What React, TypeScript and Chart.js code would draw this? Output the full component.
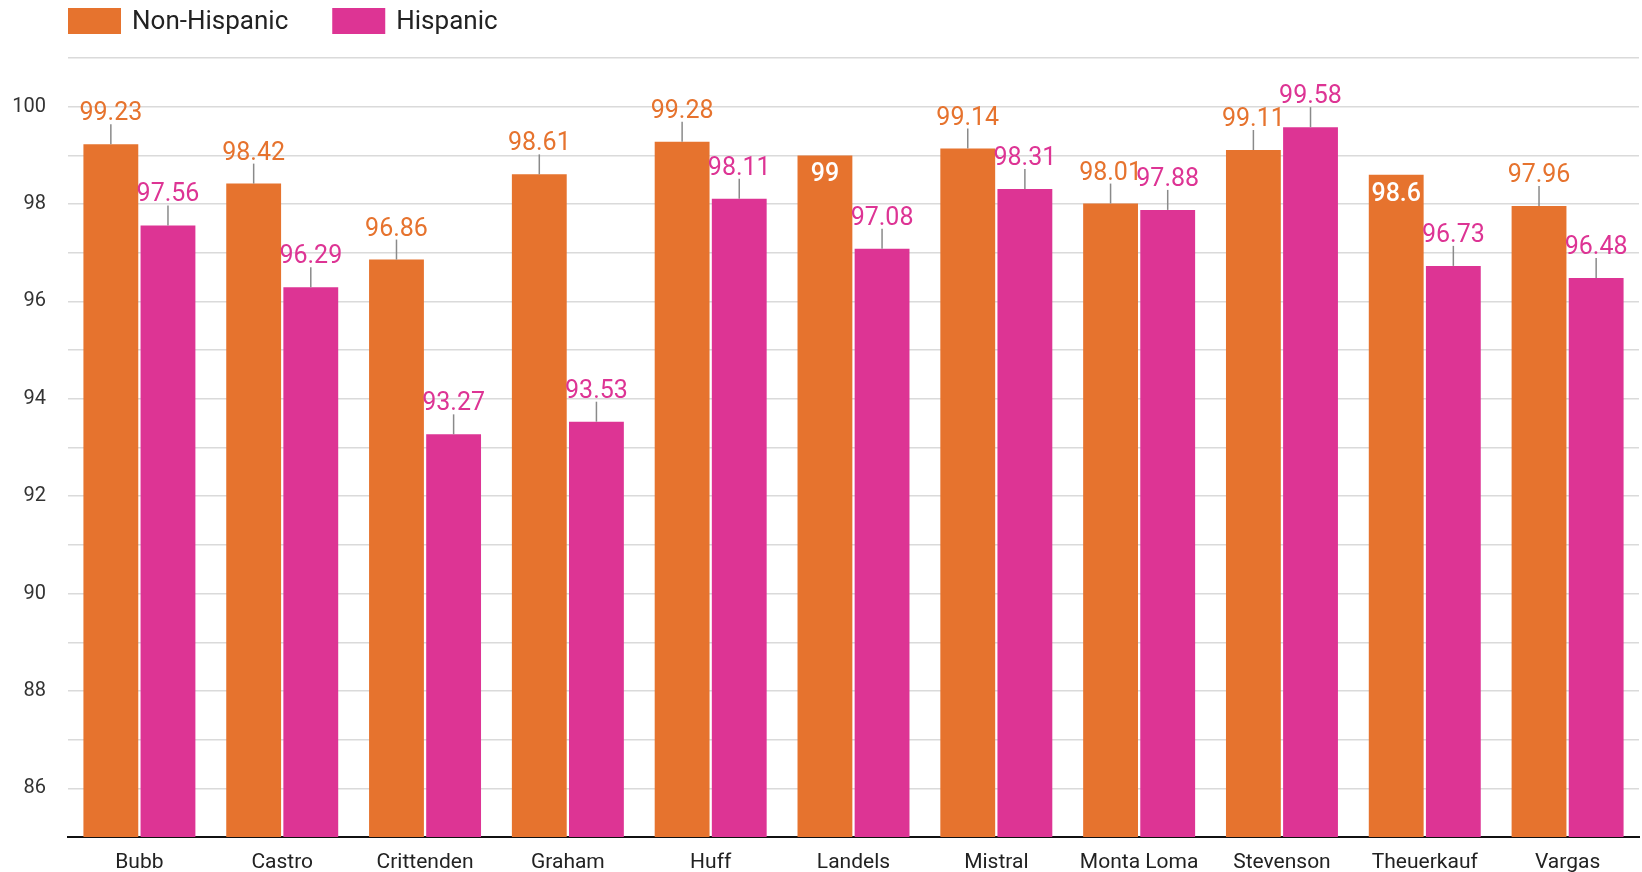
import { Chart, registerables } from 'chart.js';
import { useEffect, useRef } from 'react';

Chart.register(...registerables);

const ORANGE = '#E6732E';
const PINK = '#DD3494';
const LEADER_COLOR = '#8a8a8a';
const GRID_COLOR = '#dadada';
const FONT = 'Roboto';

const schools = ['Bubb', 'Castro', 'Crittenden', 'Graham', 'Huff', 'Landels', 'Mistral', 'Monta Loma', 'Stevenson', 'Theuerkauf', 'Vargas'];
const nonHispanic = [99.23, 98.42, 96.86, 98.61, 99.28, 99, 99.14, 98.01, 99.11, 98.6, 97.96];
const hispanic = [97.56, 96.29, 93.27, 93.53, 98.11, 97.08, 98.31, 97.88, 99.58, 96.73, 96.48];
const seriesNames = ['Non-Hispanic', 'Hispanic'];
const seriesColors = [ORANGE, PINK];
// labels drawn inside the bar instead of above it
const insideLabels = [[5, 9], []];
const yMin = 85;
const yMax = 101;

const App = () => {
  const chartRef = useRef<HTMLCanvasElement | null>(null);

  useEffect(() => {
    if (chartRef.current === null) return () => {};
    const aChart = new Chart(chartRef.current, {
      type: 'bar',
      plugins: [{
        id: 'valueLabels',
        afterDatasetsDraw(chart) {
          const { ctx } = chart;
          ctx.save();
          chart.data.datasets.forEach((dataset, di) => {
            const meta = chart.getDatasetMeta(di);
            meta.data.forEach((bar: any, i) => {
              const value = dataset.data[i] as number;
              const text = `${value}`;
              ctx.textAlign = 'center';
              if (insideLabels[di].includes(i)) {
                ctx.font = `500 25px ${FONT}`;
                ctx.fillStyle = '#ffffff';
                ctx.textBaseline = 'alphabetic';
                ctx.fillText(text, bar.x, bar.y + 26);
                return;
              }
              ctx.strokeStyle = LEADER_COLOR;
              ctx.lineWidth = 1.5;
              ctx.beginPath();
              ctx.moveTo(bar.x, bar.y);
              ctx.lineTo(bar.x, bar.y - 20);
              ctx.stroke();
              ctx.font = `25px ${FONT}`;
              ctx.fillStyle = seriesColors[di];
              ctx.textBaseline = 'alphabetic';
              ctx.fillText(text, bar.x, bar.y - 24);
            });
          });

          // legend
          let x = 68;
          seriesNames.forEach((name, di) => {
            ctx.fillStyle = seriesColors[di];
            ctx.fillRect(x, 8, 53, 26);
            ctx.font = `26px ${FONT}`;
            ctx.fillStyle = '#222222';
            ctx.textAlign = 'left';
            ctx.textBaseline = 'middle';
            ctx.fillText(name, x + 64, 22);
            x += 64 + ctx.measureText(name).width + 44;
          });
          ctx.restore();
        },
      }],
      data: {
        labels: schools,
        datasets: [
          {
            label: seriesNames[0],
            data: nonHispanic,
            backgroundColor: ORANGE,
            categoryPercentage: 0.8,
            barPercentage: 0.96,
          },
          {
            label: seriesNames[1],
            data: hispanic,
            backgroundColor: PINK,
            categoryPercentage: 0.8,
            barPercentage: 0.96,
          },
        ],
      },
      options: {
        animation: false,
        responsive: true,
        maintainAspectRatio: false,
        layout: {
          padding: { top: 58, right: 3, left: 0, bottom: 0 },
        },
        plugins: {
          legend: { display: false },
          tooltip: { enabled: false },
        },
        scales: {
          x: {
            grid: { display: false, drawTicks: false },
            border: { display: true, color: '#111111', width: 2 },
            ticks: {
              color: '#222222',
              padding: 13,
              font: { family: FONT, size: 21 },
              maxRotation: 0,
            },
            afterFit(scale) {
              scale.height = 35;
            },
          },
          y: {
            min: yMin,
            max: yMax,
            grid: { color: GRID_COLOR, lineWidth: 1.5, drawTicks: false },
            border: { display: false },
            ticks: {
              stepSize: 1,
              padding: 22,
              color: '#333333',
              font: { family: FONT, size: 20 },
              callback: (v) => (Number(v) % 2 === 0 ? `${v}` : ''),
            },
            afterFit(scale) {
              scale.width = 68;
            },
          },
        },
      },
    });
    return () => {
      aChart.destroy();
    };
  }, []);

  return (
    <div style={{ position: 'absolute', left: 0, top: 0, width: 1642, height: 872, background: '#ffffff' }}>
      <canvas ref={chartRef} />
    </div>
  );
};

export default App;
